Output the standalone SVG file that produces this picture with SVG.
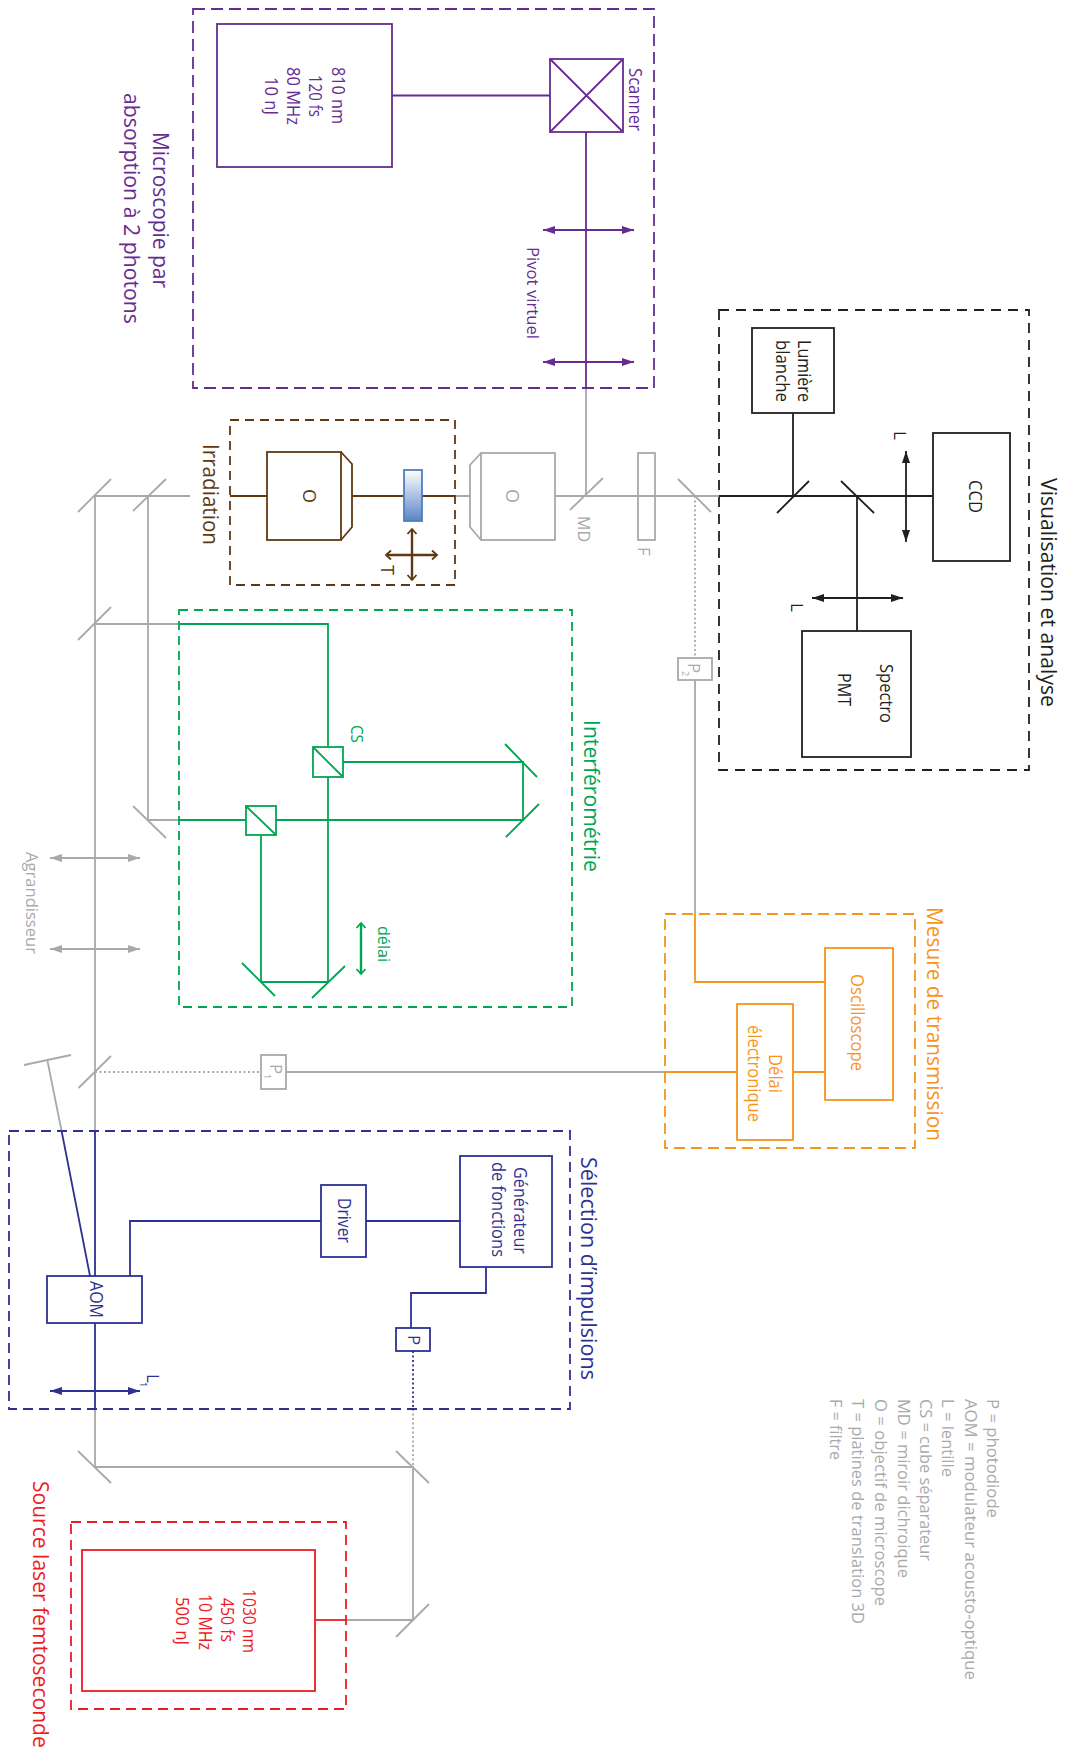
<svg xmlns="http://www.w3.org/2000/svg" width="1066" height="1753" viewBox="0 0 1066 1753">
<defs>
<style>
text{font-family:"Open Sans","Noto Sans","Liberation Sans",sans-serif;stroke:none}
.t{font-size:22.500px}.m{font-size:18px}.s{font-size:17px}.x{font-size:9px}
.purple{stroke:#662d91;fill:none}.tp{fill:#662d91}
.blue{stroke:#2e3192;fill:none}.tb{fill:#2e3192}
.green{stroke:#00a651;fill:none}.tg{fill:#00a651}
.orange{stroke:#f7941d;fill:none}.to{fill:#f7941d}
.red{stroke:#ed1c24;fill:none}.tr{fill:#ed1c24}
.brown{stroke:#603913;fill:none}.tn{fill:#603913}
.gray{stroke:#a7a9ac;fill:none}.ty{fill:#a7a9ac}
.black{stroke:#231f20;fill:none}.tk{fill:#231f20}
line,path,rect,polyline{stroke-width:1.8}
.dash{stroke-dasharray:10 6}
.dot{stroke-dasharray:2 2.5}
.thick{stroke-width:2.4}
</style>
<linearGradient id="sampleGrad" x1="0" y1="0" x2="0" y2="1"><stop offset="0" stop-color="#ffffff"/><stop offset="1" stop-color="#5b84c4"/></linearGradient>
<marker id="aP" markerUnits="userSpaceOnUse" markerWidth="13" markerHeight="8" refX="12" refY="4" orient="auto-start-reverse"><path d="M0 0L12 4L0 8Z" fill="#662d91" stroke="none"/></marker>
<marker id="aB" markerUnits="userSpaceOnUse" markerWidth="13" markerHeight="8" refX="12" refY="4" orient="auto-start-reverse"><path d="M0 0L12 4L0 8Z" fill="#2e3192" stroke="none"/></marker>
<marker id="aK" markerUnits="userSpaceOnUse" markerWidth="13" markerHeight="8" refX="12" refY="4" orient="auto-start-reverse"><path d="M0 0L12 4L0 8Z" fill="#231f20" stroke="none"/></marker>
<marker id="aY" markerUnits="userSpaceOnUse" markerWidth="13" markerHeight="8" refX="12" refY="4" orient="auto-start-reverse"><path d="M0 0L12 4L0 8Z" fill="#a7a9ac" stroke="none"/></marker>
<marker id="oN" markerUnits="userSpaceOnUse" markerWidth="10" markerHeight="12" refX="8" refY="6" orient="auto-start-reverse"><path d="M3 1.500L8 6L3 10.500" fill="none" stroke="#603913" stroke-width="2.2"/></marker>
<marker id="oG" markerUnits="userSpaceOnUse" markerWidth="10" markerHeight="12" refX="8" refY="6" orient="auto-start-reverse"><path d="M3 1.500L8 6L3 10.500" fill="none" stroke="#00a651" stroke-width="2.2"/></marker>
</defs>

<g id="connectors">
<g class="gray">
<path d="M190 496H95V1131M148 496V820M95 624H179M148 820H179"/>
<path d="M455 496H470M555 496H719M586 388V496"/>
<path d="M695 680V914M286 1072H665"/>
<path d="M95 1409V1467H413V1620H346"/>
<path d="M47.500 1061L61.600 1131"/>
<path class="dot" d="M695 496V658M95 1072H261M413 1409V1467"/>
<path d="M78 512L111 479M133 511L166 479M78 640L111 607M133 806L166 838M78.500 1088L111 1056M24 1065L71 1055M78 1451L111 1483M396 1451L429 1483M396 1637L429 1604M570 510L603 478M678 479L711 512"/>
<path d="M50 858H140" marker-start="url(#aY)" marker-end="url(#aY)"/>
<path d="M50 949H140" marker-start="url(#aY)" marker-end="url(#aY)"/>
</g>
<g class="purple">
<path d="M392 95.500H550M586 132V388"/>
<path d="M543 230H634" marker-start="url(#aP)" marker-end="url(#aP)"/>
<path d="M543 362H634" marker-start="url(#aP)" marker-end="url(#aP)"/>
</g>
<g class="brown">
<path d="M230 496H267M352 496H404M422 496H455"/>
<path class="thick" d="M386 555H437" marker-start="url(#oN)" marker-end="url(#oN)"/>
<path class="thick" d="M412 529V580" marker-start="url(#oN)" marker-end="url(#oN)"/>
</g>
<g class="black">
<path d="M719 496H933M793 413V496M857 496V631"/>
<path d="M777 513L809 481M841 481L874 513"/>
<path d="M906 451V542" marker-start="url(#aK)" marker-end="url(#aK)"/>
<path d="M812 598H903" marker-start="url(#aK)" marker-end="url(#aK)"/>
</g>
<g class="green">
<path d="M179 624H328V747M328 777V982H261V835M246 820H179M276 820H523V762H343"/>
<path d="M505 744L537 777M539 804L506 837M242 963L275 996M345 966L312 998"/>
<path class="thick" d="M361 923V974" marker-start="url(#oG)" marker-end="url(#oG)"/>
</g>
<g class="orange">
<path d="M695 914V982H825M665 1072H737M793 1072H825"/>
</g>
<g class="blue">
<path d="M95 1131V1276M95 1323V1409M61.600 1131L90 1276M130 1276V1221H321M366 1221H460M486 1267V1293H411V1328"/>
<path class="dot" d="M413 1351V1409"/>
<path d="M50 1391H140" marker-start="url(#aB)" marker-end="url(#aB)"/>
</g>
<g class="red"><path d="M315 1620H346"/></g>
</g>

<g id="zone-microscopie">
<rect class="purple dash" x="193" y="9" width="461" height="379" style="stroke-dasharray:12 6"/>
<text class="t tp" transform="translate(153 132) rotate(90)" textLength="156" lengthAdjust="spacingAndGlyphs">Microscopie par</text>
<text class="t tp" transform="translate(124 93) rotate(90)" textLength="231" lengthAdjust="spacingAndGlyphs">absorption à 2 photons</text>
<text class="s tp" transform="translate(527 247) rotate(90)" textLength="92" lengthAdjust="spacingAndGlyphs">Pivot virtuel</text>
</g>
<g id="laser-810">
<rect class="purple" x="217" y="24" width="175" height="143"/>
<text class="m tp" transform="translate(332 67) rotate(90)" textLength="57" lengthAdjust="spacingAndGlyphs">810 nm</text>
<text class="m tp" transform="translate(309 75) rotate(90)" textLength="42" lengthAdjust="spacingAndGlyphs">120 fs</text>
<text class="m tp" transform="translate(287 67) rotate(90)" textLength="58" lengthAdjust="spacingAndGlyphs">80 MHz</text>
<text class="m tp" transform="translate(265 77) rotate(90)" textLength="38" lengthAdjust="spacingAndGlyphs">10 nJ</text>
</g>
<g id="scanner">
<rect class="purple" x="550" y="59" width="73" height="73"/>
<path class="purple" d="M550 59L623 132M623 59L550 132"/>
<text class="m tp" transform="translate(629 68) rotate(90)" textLength="63" lengthAdjust="spacingAndGlyphs">Scanner</text>
</g>

<g id="zone-irradiation">
<rect class="brown dash" x="230" y="420" width="225" height="165" style="stroke-dasharray:9 6"/>
<text class="t tn" transform="translate(203 444) rotate(90)" textLength="101" lengthAdjust="spacingAndGlyphs">Irradiation</text>
<text class="m tn" transform="translate(381 565) rotate(90)">T</text>
</g>
<g id="objectif-irradiation">
<rect class="brown" x="267" y="452" width="74" height="88"/>
<path class="brown" d="M341 452L352 464V527L341 540"/>
<text class="m tn" transform="translate(303 489) rotate(90)">O</text>
</g>
<g id="echantillon">
<rect x="404" y="470" width="18" height="51" fill="url(#sampleGrad)" stroke="#4f7fc0"/>
</g>
<g id="objectif-gris">
<rect class="gray" x="481" y="453" width="74" height="87"/>
<path class="gray" d="M481 453L470 465V527L481 540"/>
<text class="m ty" transform="translate(506 489) rotate(90)">O</text>
</g>
<g id="miroir-dichroique">
<text class="s ty" transform="translate(578 516) rotate(90)" textLength="26" lengthAdjust="spacingAndGlyphs">MD</text>
</g>
<g id="filtre">
<rect class="gray" x="638" y="453" width="17" height="87"/>
<text class="s ty" transform="translate(638 547) rotate(90)">F</text>
</g>
<g id="photodiode-2">
<rect class="gray" x="678" y="658" width="34" height="22"/>
<text class="s ty" transform="translate(688 663) rotate(90)">P</text>
<text class="x ty" transform="translate(682 671) rotate(90)">2</text>
</g>

<g id="zone-visualisation">
<rect class="black dash" x="719" y="310" width="310" height="460" style="stroke-dasharray:10 7"/>
<text class="t tk" transform="translate(1041 478) rotate(90)" textLength="229" lengthAdjust="spacingAndGlyphs">Visualisation et analyse</text>
<text class="s tk" transform="translate(894 431) rotate(90)">L</text>
<text class="s tk" transform="translate(791 603) rotate(90)">L</text>
</g>
<g id="lumiere-blanche">
<rect class="black" x="752" y="328" width="82" height="85"/>
<text class="m tk" transform="translate(798 340) rotate(90)" textLength="62" lengthAdjust="spacingAndGlyphs">Lumière</text>
<text class="m tk" transform="translate(776 340) rotate(90)" textLength="62" lengthAdjust="spacingAndGlyphs">blanche</text>
</g>
<g id="ccd">
<rect class="black" x="933" y="433" width="77" height="128"/>
<text class="m tk" transform="translate(969 480) rotate(90)" textLength="33" lengthAdjust="spacingAndGlyphs">CCD</text>
</g>
<g id="spectro-pmt">
<rect class="black" x="802" y="631" width="109" height="126"/>
<text class="m tk" transform="translate(880 664) rotate(90)" textLength="59" lengthAdjust="spacingAndGlyphs">Spectro</text>
<text class="m tk" transform="translate(838 673) rotate(90)" textLength="33" lengthAdjust="spacingAndGlyphs">PMT</text>
</g>

<g id="zone-interferometrie">
<rect class="green dash" x="179" y="610" width="393" height="397" style="stroke-dasharray:9 6"/>
<text class="t tg" transform="translate(584 720) rotate(90)" textLength="152" lengthAdjust="spacingAndGlyphs">Interférométrie</text>
<text class="s tg" transform="translate(378 926) rotate(90)" textLength="36" lengthAdjust="spacingAndGlyphs">délai</text>
<text class="s tg" transform="translate(351 725) rotate(90)" textLength="18" lengthAdjust="spacingAndGlyphs">CS</text>
</g>
<g id="cube-1">
<rect class="green" x="313" y="747" width="30" height="30"/>
<path class="green" d="M313 747L343 777"/>
</g>
<g id="cube-2">
<rect class="green" x="246" y="806" width="30" height="29"/>
<path class="green" d="M246 806L276 835"/>
</g>

<g id="agrandisseur">
<text class="s ty" transform="translate(26 852) rotate(90)" textLength="102" lengthAdjust="spacingAndGlyphs">Agrandisseur</text>
</g>

<g id="zone-transmission">
<rect class="orange dash" x="665" y="914" width="250" height="234" style="stroke-dasharray:11 6"/>
<text class="t to" transform="translate(927 907) rotate(90)" textLength="234" lengthAdjust="spacingAndGlyphs">Mesure de transmission</text>
</g>
<g id="oscilloscope">
<rect class="orange" x="825" y="948" width="68" height="152"/>
<text class="m to" transform="translate(851 974) rotate(90)" textLength="97" lengthAdjust="spacingAndGlyphs">Oscilloscope</text>
</g>
<g id="delai-electronique">
<rect class="orange" x="737" y="1004" width="56" height="136"/>
<text class="m to" transform="translate(769 1054) rotate(90)" textLength="39" lengthAdjust="spacingAndGlyphs">Délai</text>
<text class="m to" transform="translate(748 1025) rotate(90)" textLength="97" lengthAdjust="spacingAndGlyphs">électronique</text>
</g>
<g id="photodiode-1">
<rect class="gray" x="261" y="1055" width="25" height="34"/>
<text class="s ty" transform="translate(270 1064) rotate(90)">P</text>
<text class="x ty" transform="translate(264 1074) rotate(90)">1</text>
</g>

<g id="zone-selection">
<rect class="blue dash" x="9" y="1131" width="561" height="278"/>
<text class="t tb" transform="translate(581 1157) rotate(90)" textLength="223" lengthAdjust="spacingAndGlyphs">Sélection d’impulsions</text>
<text class="s tb" transform="translate(147 1374) rotate(90)">L</text>
<text class="x tb" transform="translate(140 1382) rotate(90)">1</text>
</g>
<g id="aom">
<rect class="blue" x="47" y="1276" width="95" height="47"/>
<text class="m tb" transform="translate(90 1281) rotate(90)" textLength="37" lengthAdjust="spacingAndGlyphs">AOM</text>
</g>
<g id="driver">
<rect class="blue" x="321" y="1185" width="45" height="72"/>
<text class="m tb" transform="translate(338 1198) rotate(90)" textLength="45" lengthAdjust="spacingAndGlyphs">Driver</text>
</g>
<g id="generateur">
<rect class="blue" x="460" y="1156" width="92" height="111"/>
<text class="m tb" transform="translate(514 1167) rotate(90)" textLength="87" lengthAdjust="spacingAndGlyphs">Générateur</text>
<text class="m tb" transform="translate(492 1162) rotate(90)" textLength="95" lengthAdjust="spacingAndGlyphs">de fonctions</text>
</g>
<g id="photodiode-p">
<rect class="blue" x="396" y="1328" width="34" height="23"/>
<text class="s tb" transform="translate(408 1335) rotate(90)">P</text>
</g>

<g id="zone-source">
<rect class="red dash" x="71" y="1522" width="275" height="187"/>
<text class="t tr" transform="translate(33 1481) rotate(90) scale(.92 1)" textLength="290" lengthAdjust="spacingAndGlyphs">Source laser femtoseconde</text>
</g>
<g id="laser-1030">
<rect class="red" x="82" y="1550" width="233" height="141"/>
<text class="m tr" transform="translate(243 1589) rotate(90)" textLength="64" lengthAdjust="spacingAndGlyphs">1030 nm</text>
<text class="m tr" transform="translate(221 1598) rotate(90)" textLength="44" lengthAdjust="spacingAndGlyphs">450 fs</text>
<text class="m tr" transform="translate(199 1594) rotate(90)" textLength="56" lengthAdjust="spacingAndGlyphs">10 MHz</text>
<text class="m tr" transform="translate(176 1597) rotate(90)" textLength="48" lengthAdjust="spacingAndGlyphs">500 nJ</text>
</g>

<g id="legende">
<text class="s ty" transform="translate(987 1399) rotate(90)" textLength="119" lengthAdjust="spacingAndGlyphs">P = photodiode</text>
<text class="s ty" transform="translate(964.500 1399) rotate(90)" textLength="281" lengthAdjust="spacingAndGlyphs">AOM = modulateur acousto-optique</text>
<text class="s ty" transform="translate(942 1399) rotate(90)" textLength="78" lengthAdjust="spacingAndGlyphs">L = lentille</text>
<text class="s ty" transform="translate(920 1399) rotate(90)" textLength="162" lengthAdjust="spacingAndGlyphs">CS = cube séparateur</text>
<text class="s ty" transform="translate(898 1399) rotate(90)" textLength="179" lengthAdjust="spacingAndGlyphs">MD = miroir dichroique</text>
<text class="s ty" transform="translate(875 1399) rotate(90)" textLength="207" lengthAdjust="spacingAndGlyphs">O = objectif de microscope</text>
<text class="s ty" transform="translate(852 1399) rotate(90)" textLength="225" lengthAdjust="spacingAndGlyphs">T = platines de translation 3D</text>
<text class="s ty" transform="translate(830 1399) rotate(90)" textLength="61" lengthAdjust="spacingAndGlyphs">F = filtre</text>
</g>
</svg>
